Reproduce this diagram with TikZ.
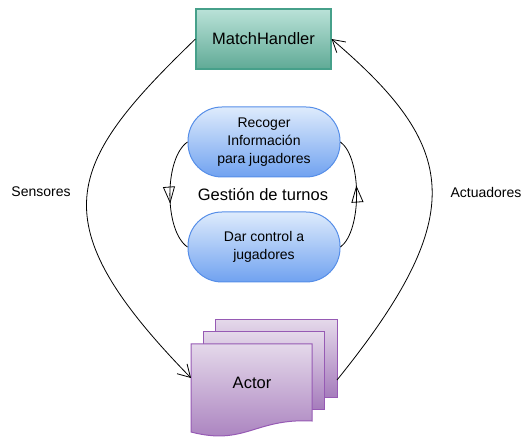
\documentclass[tikz,border=0pt]{standalone}
\usepackage{fontspec}
\setmainfont{Liberation Sans}
\usetikzlibrary{arrows.meta,decorations.markings}
\definecolor{tealtop}{RGB}{186,226,216}
\definecolor{tealbot}{RGB}{96,170,150}
\definecolor{tealdraw}{RGB}{70,160,138}
\definecolor{bluetop}{RGB}{222,235,252}
\definecolor{bluebot}{RGB}{112,162,240}
\definecolor{bluedraw}{RGB}{86,142,232}
\definecolor{purptop}{RGB}{228,216,234}
\definecolor{purpbot}{RGB}{166,124,188}
\definecolor{purpdraw}{RGB}{150,90,180}
\tikzset{
  x=1pt, y=-1pt,
  bigtxt/.style={font=\fontsize{16.5}{19}\selectfont},
  smalltxt/.style={font=\fontsize{14}{18}\selectfont},
  handler/.style={draw=tealdraw, line width=1.1pt, top color=tealtop, bottom color=tealbot,
     minimum width=135pt, minimum height=60pt, inner sep=0pt, bigtxt},
  stadium/.style={draw=bluedraw, line width=1pt, top color=bluetop, bottom color=bluebot,
     rounded corners=34pt, minimum width=152pt, minimum height=70pt, inner sep=0pt,
     smalltxt, align=center},
  docshape/.style={draw=purpdraw, line width=1pt, top color=purptop, bottom color=purpbot},
  conn/.style={line width=0.8pt, -{Straight Barb[length=12pt,width=14pt]}},
  loopconn/.style={line width=0.8pt, postaction={decorate},
     decoration={markings, mark=at position 0.58 with {\arrow[line width=0.8pt]{Triangle[open,length=17pt,width=12pt]}}}},
}
\begin{document}
\begin{tikzpicture}
\useasboundingbox (0,0) rectangle (525,438);

% MatchHandler
\node[handler] (mh) at (263.5,39) {MatchHandler};

% loop boxes
\node[stadium] (rec) at (264,142) {Recoger\\Información\\para jugadores};
\node[stadium] (dar) at (264,247) {Dar control a\\jugadores};
\node[bigtxt] (gest) at (263,195) {Gestión de turnos};

\draw[loopconn] (rec.west) .. controls (164,158) and (164,231) .. (dar.west);
\draw[loopconn] (dar.east) .. controls (362,231) and (362,158) .. (rec.east);

% Actor multi-document
\path[docshape] (215,320) rectangle (337,397);
\path[docshape] (203,332) rectangle (324,409);
\path[docshape] (191,344) -- (312,344) -- (312,421)
   .. controls (255,418) and (245,446) .. (191,432) -- cycle;
\node[bigtxt] (actor) at (252,383) {Actor};
\coordinate (actin) at (191,378);
\coordinate (actout) at (337,380);

% connectors
\draw[conn] (mh.west) .. controls (65,165) and (38,221) .. (actin);
\draw[conn] (actout) .. controls (472,213) and (457,146) .. (mh.east);

\node[smalltxt] (sens) at (41,192) {Sensores};
\node[smalltxt] (act) at (486,192) {Actuadores};
\end{tikzpicture}
\end{document}
